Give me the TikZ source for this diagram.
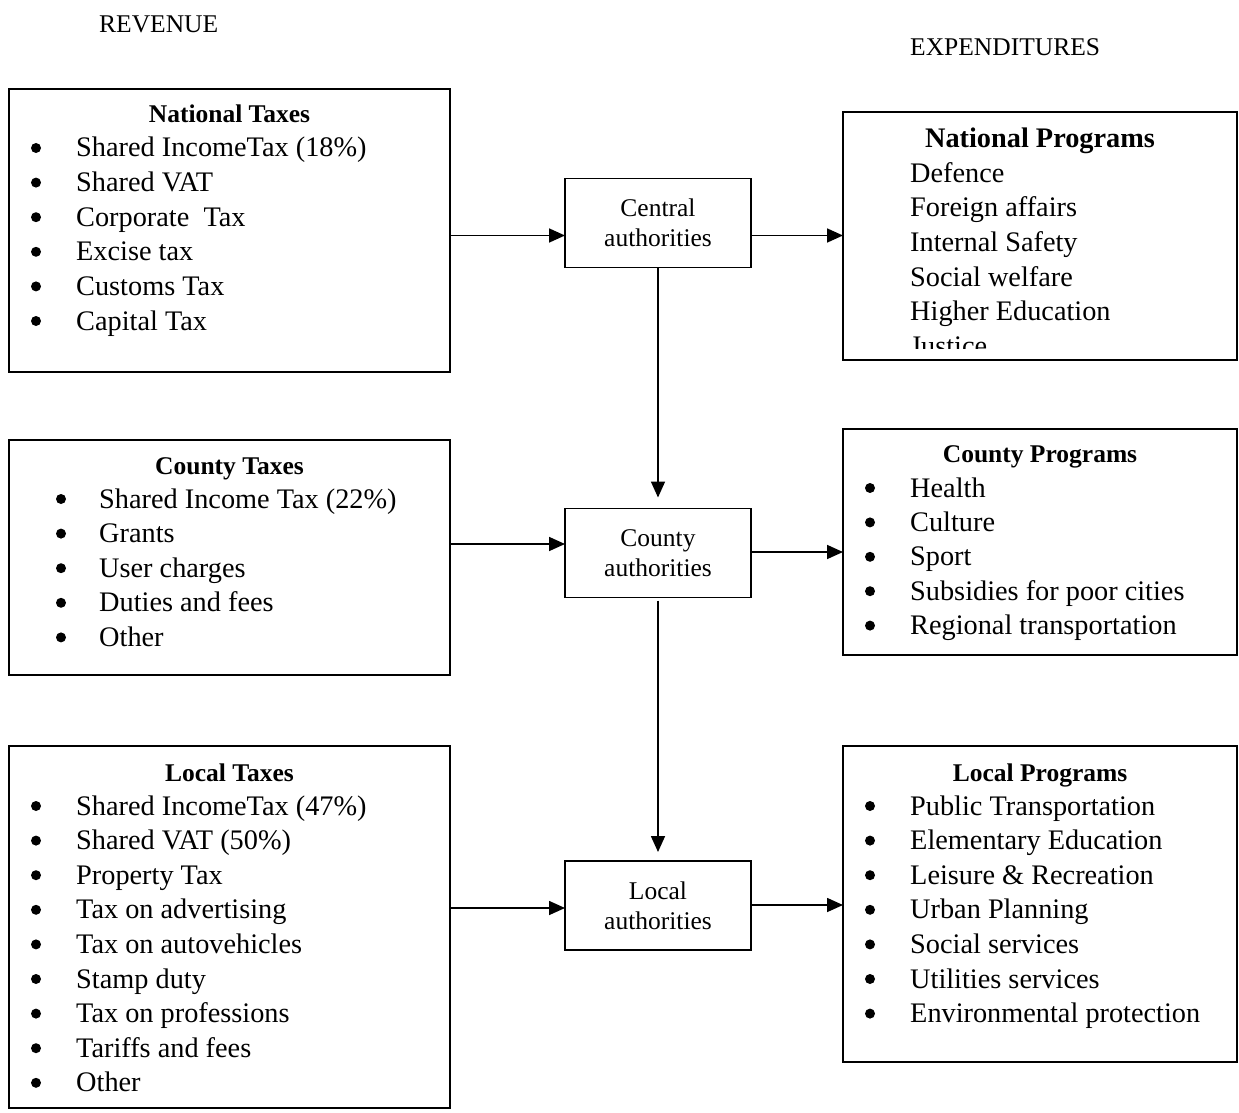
\documentclass[tikz,border=0pt]{standalone}
\usepackage{fontspec}
\setmainfont{Liberation Serif}
\usetikzlibrary{arrows.meta}

\begin{document}
\begin{tikzpicture}[x=1pt, y=-1pt,
  blk/.style={draw, line width=1.9pt, rectangle, anchor=north west, inner sep=0pt, outer sep=0pt},
  auth/.style={draw, line width=1.9pt, rectangle, minimum width=186pt, minimum height=89pt,
               align=center, inner sep=0pt, outer sep=0pt, font=\fontsize{25.5}{30}\selectfont},
  ttl/.style={anchor=base, inner sep=0pt, font=\fontsize{25.5}{30}\selectfont\bfseries},
  itm/.style={anchor=base west, inner sep=0pt, font=\fontsize{28.3}{34}\selectfont},
  dot/.style={circle, fill, inner sep=0pt, minimum size=10pt},
  hdr/.style={anchor=base west, inner sep=0pt, font=\fontsize{25.5}{30}\selectfont},
  arr/.style={line width=1.7pt, -{Triangle[length=16pt, width=14pt]}}
]
\useasboundingbox (0,0) rectangle (1239,1113);

% column headings
\node[hdr] (rev) at (99, 32.5)  {REVENUE};
\node[hdr] (exp) at (910, 55.5) {EXPENDITURES};

% revenue side
\node[blk, minimum width=441pt, minimum height=283pt] (ntax) at (9, 89)  {};
\node[blk, minimum width=441pt, minimum height=235pt] (ctax) at (9, 440) {};
\node[blk, minimum width=441pt, minimum height=362pt] (ltax) at (9, 746) {};
\node[ttl] (ntaxt) at (229.5, 123) {National Taxes};
\node[ttl] (ctaxt) at (229.5, 474) {County Taxes};
\node[ttl] (ltaxt) at (229.5, 781) {Local Taxes};
\foreach \t [count=\i from 0] in {Shared IncomeTax (18\%), Shared VAT, Corporate\ \ Tax,
    Excise tax, Customs Tax, Capital Tax} {
  \node[dot] (ntaxd\i) at (36, 148+34.6*\i) {};
  \node[itm] (ntax\i) at (76, 157+34.6*\i) {\t};
}
\foreach \t [count=\i from 0] in {Shared Income Tax (22\%), Grants, User charges,
    Duties and fees, Other} {
  \node[dot] (ctaxd\i) at (61, 499+34.6*\i) {};
  \node[itm] (ctax\i) at (99, 508+34.6*\i) {\t};
}
\foreach \t [count=\i from 0] in {Shared IncomeTax (47\%), Shared VAT (50\%), Property Tax,
    Tax on advertising, Tax on autovehicles, Stamp duty, Tax on professions,
    Tariffs and fees, Other} {
  \node[dot] (ltaxd\i) at (36, 806+34.6*\i) {};
  \node[itm] (ltax\i) at (76, 815+34.6*\i) {\t};
}

% authorities
\node[auth] (cauth)  at (658, 223)   {Central\\authorities};
\node[auth] (coauth) at (658, 553)   {County\\authorities};
\node[auth] (lauth)  at (658, 905.5) {Local\\authorities};

% expenditure side
\node[blk, minimum width=394pt, minimum height=248pt] (nprog) at (843, 112) {};
\node[blk, minimum width=394pt, minimum height=226pt] (cprog) at (843, 429) {};
\node[blk, minimum width=394pt, minimum height=316pt] (lprog) at (843, 746) {};
\node[ttl, font=\fontsize{28.3}{34}\selectfont\bfseries] (nprogt) at (1040, 147) {National Programs};
\node[ttl] (cprogt) at (1040, 462) {County Programs};
\node[ttl] (lprogt) at (1040, 781) {Local Programs};
\begin{scope}
  \clip (nprog.north west) rectangle ([yshift=12pt]nprog.south east);
  \foreach \t [count=\i from 0] in {Defence, Foreign affairs, Internal Safety,
      Social welfare, Higher Education, Justice} {
    \node[itm] (nprog\i) at (910, 182+34.7*\i) {\t};
  }
\end{scope}
\foreach \t [count=\i from 0] in {Health, Culture, Sport, Subsidies for poor cities,
    Regional transportation} {
  \node[dot] (cprogd\i) at (870, 488+34.4*\i) {};
  \node[itm] (cprog\i) at (910, 497+34.4*\i) {\t};
}
\foreach \t [count=\i from 0] in {Public Transportation, Elementary Education,
    Leisure \& Recreation, Urban Planning, Social services, Utilities services,
    Environmental protection} {
  \node[dot] (lprogd\i) at (870, 806+34.6*\i) {};
  \node[itm] (lprog\i) at (910, 815+34.6*\i) {\t};
}

% flows
\draw[arr] ([yshift=-5pt]ntax.east) -- ([yshift=-5pt]ntax.east -| cauth.west);
\draw[arr] ([yshift=-12.5pt]cauth.east) -- ([yshift=-12.5pt]cauth.east -| nprog.west);
\draw[arr] ([yshift=13.5pt]ctax.west -| ctax.east) -- ([yshift=13.5pt]ctax.west -| coauth.west);
\draw[arr] ([yshift=1pt]coauth.east) -- ([yshift=1pt]coauth.east -| cprog.west);
\draw[arr] ([yshift=19pt]ltax.east) -- ([yshift=19pt]ltax.east -| lauth.west);
\draw[arr] ([yshift=0.5pt]lauth.east) -- ([yshift=0.5pt]lauth.east -| lprog.west);
\draw[arr] (cauth.south) -- ([yshift=11pt]coauth.north);
\draw[arr] ([yshift=-3pt]coauth.south) -- ([yshift=9pt]lauth.north);
\end{tikzpicture}
\end{document}
